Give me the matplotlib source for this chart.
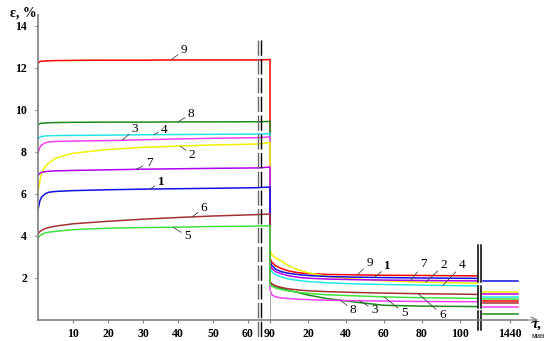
import numpy as np
import matplotlib
matplotlib.use("Agg")
import matplotlib.pyplot as plt

plt.rcParams["font.family"] = ["Liberation Serif", "DejaVu Serif"]

# loading phase, minutes from start
T_LOAD = [0, 0.5, 1, 2, 3, 5, 10, 20, 30, 40, 50, 63, 90]
# rest phase, minutes after unloading
T_REST = [0, 1, 3, 6, 10, 15, 20, 30, 45, 60, 80, 109]
# next day (around 1440 min after unloading)
T_DAY = [1413, 1448]
UNLOAD_AT = 90

CURVE_IDS = ["9", "8", "4", "3", "2", "7", "1", "6", "5"]

LOAD = {
    "9": [12.22, 12.30, 12.32, 12.33, 12.34, 12.35, 12.36, 12.37, 12.37, 12.38, 12.38, 12.38, 12.40],
    "8": [9.30, 9.35, 9.37, 9.38, 9.39, 9.40, 9.41, 9.42, 9.42, 9.43, 9.43, 9.44, 9.45],
    "4": [8.62, 8.70, 8.74, 8.76, 8.77, 8.78, 8.79, 8.80, 8.82, 8.83, 8.84, 8.85, 8.87],
    "3": [7.95, 8.20, 8.33, 8.43, 8.47, 8.50, 8.52, 8.54, 8.58, 8.62, 8.65, 8.68, 8.72],
    "2": [6.10, 6.60, 6.98, 7.30, 7.46, 7.70, 7.94, 8.12, 8.22, 8.28, 8.33, 8.38, 8.45],
    "7": [6.88, 6.98, 7.03, 7.06, 7.08, 7.10, 7.12, 7.15, 7.18, 7.20, 7.22, 7.24, 7.28],
    "1": [5.25, 5.65, 5.85, 6.00, 6.08, 6.12, 6.16, 6.20, 6.23, 6.25, 6.27, 6.30, 6.33],
    "6": [4.10, 4.20, 4.27, 4.35, 4.40, 4.47, 4.58, 4.70, 4.80, 4.88, 4.95, 5.02, 5.05],
    "5": [3.90, 4.00, 4.07, 4.14, 4.18, 4.22, 4.30, 4.37, 4.40, 4.42, 4.45, 4.47, 4.49],
}

REST = {
    "9": [2.94, 2.75, 2.58, 2.45, 2.33, 2.25, 2.21, 2.17, 2.15, 2.13, 2.12, 2.10],
    "8": [1.78, 1.70, 1.60, 1.50, 1.40, 1.30, 1.19, 1.02, 0.85, 0.70, 0.66, 0.64],
    "4": [2.46, 2.30, 2.15, 2.05, 1.95, 1.88, 1.83, 1.77, 1.72, 1.69, 1.66, 1.62],
    "3": [1.45, 1.20, 1.10, 1.05, 1.02, 0.99, 0.97, 0.94, 0.92, 0.90, 0.88, 0.87],
    "2": [3.33, 3.10, 2.95, 2.80, 2.57, 2.38, 2.25, 2.08, 1.95, 1.87, 1.80, 1.75],
    "7": [2.62, 2.45, 2.30, 2.20, 2.10, 2.03, 1.99, 1.95, 1.92, 1.90, 1.88, 1.86],
    "1": [2.78, 2.60, 2.42, 2.30, 2.22, 2.16, 2.12, 2.07, 2.04, 2.02, 2.00, 1.98],
    "6": [1.83, 1.72, 1.62, 1.55, 1.48, 1.43, 1.39, 1.35, 1.31, 1.28, 1.25, 1.22],
    "5": [1.67, 1.60, 1.52, 1.45, 1.38, 1.32, 1.27, 1.20, 1.15, 1.10, 1.06, 1.03],
}

DAY = {"9": 0.89, "8": 0.30, "4": 1.08, "3": 0.62, "2": 1.32,
       "7": 1.22, "1": 1.87, "6": 0.83, "5": 0.98}

COLORS = {"9": "#ff0000", "8": "#1b8a1b", "4": "#22e6e6", "3": "#f040f0",
          "2": "#f2f200", "7": "#b000f0", "1": "#1010e0", "6": "#a53030",
          "5": "#40e040"}

X_TICKS = [10, 20, 30, 40, 50, 60, 90, 110, 130, 150, 170, 190, 1530]
X_LABELS = ["10", "20", "30", "40", "50", "60", "90", "20", "40", "60", "80", "100", "1440"]
Y_TICKS = [2, 4, 6, 8, 10, 12, 14]

# label placement: curve -> (time, dx px, dy px)
LBL_LOAD = {"9": (38, 13, 10), "8": (40, 13, 8), "3": (24, 13, 11), "4": (33, 11, 5),
            "2": (40.6, 12, -9), "7": (28, 13, 6), "1": (32, 11, 7), "6": (44, 12, 9),
            "5": (38.6, 14, -9)}
LBL_REST = {"9": (46, 12, 12), "1": (55, 13, 11), "7": (74, 13, 16), "2": (82, 18, 17),
            "4": (91, 19, 20), "6": (78, 24, -21), "5": (60, 20, -16), "3": (47, 15, -9),
            "8": (37, 13, -10)}

# piecewise broken time axis
KNOT_T = [0, 63, 90, 199, 1503, 1700]
KNOT_U = [0, 220.5, 232, 439.1, 445, 642]


def fwd(t):
    return np.interp(t, KNOT_T, KNOT_U)


def inv(u):
    return np.interp(u, KNOT_U, KNOT_T)


fig = plt.figure(figsize=(5.49, 3.41), dpi=100)
ax = fig.add_axes([38 / 549, 21 / 341, 502 / 549, 305 / 341])
ax.set_xscale("function", functions=(fwd, inv))
ax.set_xlim(0, 1560)
ax.set_ylim(0, 14.52)

for k in CURVE_IDS:
    t = np.r_[T_LOAD, UNLOAD_AT + np.array(T_REST)]
    v = np.r_[LOAD[k], REST[k]]
    ax.plot(t, v, color=COLORS[k], lw=1.1, solid_joinstyle="miter")
    ax.plot(UNLOAD_AT + np.array(T_DAY), [DAY[k], DAY[k]], color=COLORS[k], lw=1.1)

    for table, t0 in ((LBL_LOAD, 0), (LBL_REST, UNLOAD_AT)):
        tl, dx, dy = table[k]
        tl = t0 + tl
        ax.annotate(k, xy=(tl, np.interp(tl, t, v)), xytext=(dx * 0.72, dy * 0.72),
                    textcoords="offset points", ha="center", va="center", fontsize=9.5,
                    fontweight="bold" if k == "1" else "normal",
                    arrowprops=dict(arrowstyle="-", lw=0.6, color="#444444",
                                    shrinkA=0, shrinkB=0))

ax.plot([UNLOAD_AT, UNLOAD_AT], [0, 1.45], color="#aaaaaa", lw=0.8)

# axis breaks
trans = ax.get_xaxis_transform()
for u, c in ((220, "#666666"), (223, "black")):
    ax.plot([inv(u)] * 2, [0.918, -0.059], transform=trans, clip_on=False,
            color=c, lw=1.0, dashes=(11, 2.5))
for u in (439.5, 442.5):
    for y0, y1 in ((0.246, 0.125), (0.111, 0.039), (0.03, -0.033)):
        ax.plot([inv(u)] * 2, [y0, y1], transform=trans, clip_on=False,
                color="black", lw=1.1)

ax.set_xticks(X_TICKS)
ax.set_xticklabels(X_LABELS)
ax.set_yticks(Y_TICKS)
ax.tick_params(axis="both", length=2, width=0.8, color="#808080",
               labelsize=8.5, pad=4)
for lbl in ax.get_xticklabels() + ax.get_yticklabels():
    lbl.set_fontweight("bold")
ax.tick_params(axis="y", pad=6)

for side in ("top", "right"):
    ax.spines[side].set_visible(False)
for side in ("left", "bottom"):
    ax.spines[side].set_color("#808080")
    ax.spines[side].set_linewidth(1.2)
ax.spines["bottom"].set_bounds(0, 1548)

ax.annotate("", xy=(541, 21), xytext=(527, 21), xycoords="figure pixels",
            arrowprops=dict(arrowstyle="->", color="#808080", lw=0.9))

fig.text(10 / 549, 1 - 13 / 341, "ε, %", fontsize=10, fontweight="bold",
         ha="left", va="center")
fig.text(537 / 549, 1 - 324 / 341, "τ,", fontsize=11, fontweight="bold",
         style="italic", ha="center", va="center")
fig.text(538 / 549, 1 - 336.5 / 341, "мин", fontsize=5.5, ha="center", va="center")

fig.savefig("out.png", dpi=100)
